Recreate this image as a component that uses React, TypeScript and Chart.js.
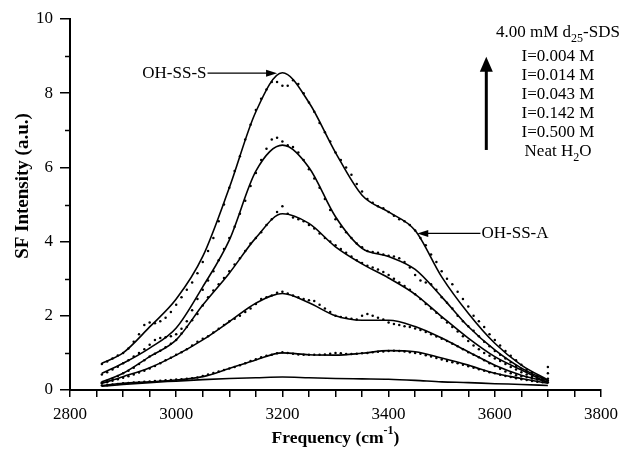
import React, { useEffect, useRef } from 'react';
import { Chart, registerables } from 'chart.js';
Chart.register(...registerables);

// ---- data ----
const fitX = [2860, 2900, 2950, 3000, 3050, 3100, 3150, 3200, 3250, 3300, 3350, 3400, 3450, 3500, 3550, 3600, 3650, 3700];
const fitA = [0.72, 1.0, 1.7, 2.45, 3.6, 5.45, 7.5, 8.55, 7.75, 6.4, 5.25, 4.8, 4.3, 3.05, 2.07, 1.26, 0.67, 0.27];
const fitB = [0.45, 0.72, 1.13, 1.67, 2.78, 4.04, 5.9, 6.6, 6.0, 4.67, 3.82, 3.6, 3.25, 2.51, 1.71, 1.08, 0.59, 0.25];
const fitC = [0.22, 0.45, 0.9, 1.35, 2.29, 3.15, 4.1, 4.75, 4.49, 3.86, 3.4, 3.02, 2.58, 1.98, 1.4, 0.9, 0.54, 0.2];
const fitD = [0.18, 0.36, 0.6, 0.94, 1.35, 1.84, 2.34, 2.6, 2.35, 2.0, 1.88, 1.88, 1.71, 1.4, 1.03, 0.67, 0.4, 0.22];
const fitE = [0.12, 0.18, 0.22, 0.27, 0.36, 0.58, 0.81, 1.0, 0.95, 0.94, 0.99, 1.06, 1.03, 0.86, 0.67, 0.45, 0.31, 0.18];
const fitF = [0.1, 0.15, 0.2, 0.24, 0.28, 0.31, 0.33, 0.35, 0.33, 0.31, 0.3, 0.29, 0.26, 0.22, 0.2, 0.17, 0.15, 0.12];

const dotX = [2860, 2880, 2900, 2920, 2940, 2960, 2980, 3000, 3020, 3040, 3060, 3080, 3100, 3120, 3140, 3160, 3180, 3200, 3220, 3240, 3260, 3280, 3300, 3320, 3340, 3360, 3380, 3400, 3420, 3440, 3460, 3480, 3500, 3520, 3540, 3560, 3580, 3600, 3620, 3640, 3660, 3680, 3700];
const dotA = [0.7, 0.85, 1.0, 1.3, 1.75, 1.8, 1.95, 2.3, 2.7, 3.15, 3.75, 4.55, 5.45, 6.3, 7.15, 7.85, 8.3, 8.2, 8.35, 8.0, 7.5, 6.95, 6.4, 6.0, 5.55, 5.15, 4.95, 4.8, 4.6, 4.45, 4.1, 3.65, 3.2, 2.85, 2.45, 2.0, 1.7, 1.35, 1.05, 0.8, 0.55, 0.38, 0.62];
const dotB = [0.42, 0.55, 0.72, 0.9, 1.1, 1.35, 1.42, 1.5, 1.85, 2.45, 2.95, 3.5, 4.1, 4.75, 5.5, 6.2, 6.75, 6.7, 6.55, 6.2, 5.7, 5.15, 4.6, 4.25, 3.95, 3.75, 3.7, 3.62, 3.55, 3.3, 2.95, 2.85, 2.5, 2.2, 1.85, 1.6, 1.3, 1.05, 0.85, 0.65, 0.5, 0.35, 0.45];
const dotC = [0.2, 0.3, 0.45, 0.6, 0.8, 0.98, 1.15, 1.35, 1.7, 2.05, 2.5, 2.85, 3.2, 3.55, 3.95, 4.25, 4.6, 4.95, 4.65, 4.55, 4.35, 4.1, 3.9, 3.7, 3.5, 3.35, 3.25, 3.1, 2.9, 2.7, 2.45, 2.2, 1.95, 1.7, 1.45, 1.2, 1.0, 0.85, 0.7, 0.55, 0.42, 0.3, 0.25];
const dotD = [0.18, 0.25, 0.33, 0.42, 0.52, 0.65, 0.8, 0.95, 1.1, 1.3, 1.45, 1.65, 1.85, 2.0, 2.2, 2.45, 2.55, 2.65, 2.55, 2.45, 2.4, 2.2, 2.0, 1.95, 1.9, 2.05, 1.95, 1.82, 1.75, 1.7, 1.62, 1.5, 1.38, 1.25, 1.1, 0.95, 0.8, 0.65, 0.5, 0.4, 0.35, 0.28, 0.3];
const dotE = [0.12, 0.15, 0.18, 0.2, 0.22, 0.24, 0.26, 0.28, 0.3, 0.34, 0.42, 0.5, 0.58, 0.67, 0.78, 0.88, 0.95, 1.02, 0.98, 0.95, 0.95, 0.96, 1.0, 0.97, 0.98, 1.0, 1.03, 1.05, 1.05, 1.02, 0.98, 0.9, 0.82, 0.75, 0.68, 0.6, 0.52, 0.45, 0.38, 0.32, 0.27, 0.22, 0.2];

const dotX2 = [2870, 2890, 2910, 2930, 2950, 2970, 2990, 3010, 3030, 3050, 3070, 3090, 3110, 3130, 3150, 3170, 3190, 3210, 3230, 3250, 3270, 3290, 3310, 3330, 3350, 3370, 3390, 3410, 3430, 3450, 3470, 3490, 3510, 3530, 3550, 3570, 3590, 3610, 3630, 3650, 3670, 3690];
const dotA2 = [0.77, 0.93, 1.12, 1.5, 1.82, 1.85, 2.1, 2.5, 2.9, 3.45, 4.1, 5.0, 5.9, 6.75, 7.55, 8.1, 8.3, 8.2, 8.25, 7.75, 7.2, 6.7, 6.2, 5.8, 5.35, 5.05, 4.9, 4.7, 4.55, 4.3, 3.9, 3.45, 3.0, 2.65, 2.25, 1.85, 1.5, 1.2, 0.92, 0.68, 0.48, 0.32];
const dotB2 = [0.48, 0.63, 0.8, 1.0, 1.22, 1.4, 1.45, 1.65, 2.15, 2.7, 3.2, 3.8, 4.4, 5.1, 5.85, 6.5, 6.8, 6.6, 6.4, 5.95, 5.45, 4.85, 4.4, 4.1, 3.85, 3.72, 3.65, 3.6, 3.45, 3.1, 2.9, 2.7, 2.35, 2.0, 1.72, 1.45, 1.18, 0.95, 0.75, 0.57, 0.42, 0.3];
const dotC2 = [0.25, 0.38, 0.52, 0.7, 0.9, 1.06, 1.25, 1.52, 1.88, 2.28, 2.68, 3.02, 3.38, 3.75, 4.1, 4.45, 4.8, 4.75, 4.6, 4.45, 4.22, 4.0, 3.8, 3.6, 3.42, 3.3, 3.18, 3.0, 2.8, 2.58, 2.32, 2.08, 1.82, 1.58, 1.32, 1.1, 0.92, 0.78, 0.62, 0.48, 0.36, 0.27];
const dotD2 = [0.21, 0.29, 0.37, 0.47, 0.58, 0.72, 0.87, 1.02, 1.2, 1.38, 1.55, 1.75, 1.92, 2.1, 2.32, 2.5, 2.62, 2.6, 2.5, 2.42, 2.3, 2.1, 1.97, 1.92, 2.0, 2.0, 1.9, 1.78, 1.72, 1.66, 1.56, 1.44, 1.32, 1.18, 1.02, 0.88, 0.72, 0.57, 0.45, 0.37, 0.31, 0.26];
const dotE2 = [0.13, 0.16, 0.19, 0.21, 0.23, 0.25, 0.27, 0.29, 0.32, 0.38, 0.46, 0.54, 0.62, 0.72, 0.83, 0.92, 0.99, 1.0, 0.96, 0.95, 0.95, 0.98, 0.99, 0.97, 0.99, 1.02, 1.04, 1.06, 1.04, 1.0, 0.94, 0.86, 0.78, 0.72, 0.64, 0.56, 0.48, 0.41, 0.35, 0.29, 0.24, 0.21];

const seriesLabels = ['I=0.004 M', 'I=0.014 M', 'I=0.043 M', 'I=0.142 M', 'I=0.500 M', 'Neat H2O'];
const fits = [fitA, fitB, fitC, fitD, fitE, fitF];
const dots = [dotA, dotB, dotC, dotD, dotE];
const dots2 = [dotA2, dotB2, dotC2, dotD2, dotE2];

const xTickLabels = ['2800', '3000', '3200', '3400', '3600', '3800'];
const yTickLabels = ['0', '2', '4', '6', '8', '10'];

// annotations (data coordinates)
const annS = { text: 'OH-SS-S', tailX: 3059, tipX: 3190, y: 8.54 };
const annA = { text: 'OH-SS-A', tailX: 3573, tipX: 3454, y: 4.22 };
const legendArrow = { x: 3584, yFrom: 6.47, yTo: 8.98 };

type Part = { t: string; sub?: boolean; sup?: boolean };
const legendLines: Part[][] = [
  [{ t: '4.00 mM d' }, { t: '25', sub: true }, { t: '-SDS' }],
  [{ t: 'I=0.004 M' }],
  [{ t: 'I=0.014 M' }],
  [{ t: 'I=0.043 M' }],
  [{ t: 'I=0.142 M' }],
  [{ t: 'I=0.500 M' }],
  [{ t: 'Neat H' }, { t: '2', sub: true }, { t: 'O' }],
];
const legendYs = [33, 57, 76, 95, 114, 133, 152];
const legendCX = 558;

const FONT = '"Liberation Serif", "Times New Roman", serif';

function drawRich(ctx: CanvasRenderingContext2D, parts: Part[], cx: number, cy: number, size: number, bold = false, align: 'center' | 'left' | 'right' = 'center') {
  const w = bold ? 'bold ' : '';
  const mainF = `${w}${size}px ${FONT}`;
  const smallF = `${w}${Math.round(size * 0.68)}px ${FONT}`;
  let total = 0;
  const widths = parts.map((p) => {
    ctx.font = p.sub || p.sup ? smallF : mainF;
    const m = ctx.measureText(p.t).width;
    total += m;
    return m;
  });
  let x = align === 'center' ? cx - total / 2 : align === 'right' ? cx - total : cx;
  ctx.textAlign = 'left';
  ctx.textBaseline = 'middle';
  parts.forEach((p, i) => {
    ctx.font = p.sub || p.sup ? smallF : mainF;
    const dy = p.sub ? size * 0.32 : p.sup ? -size * 0.38 : 0;
    ctx.fillText(p.t, x, cy + dy);
    x += widths[i];
  });
}

const overlay = {
  id: 'overlay',
  afterDraw(chart: any) {
    const ctx: CanvasRenderingContext2D = chart.ctx;
    const xs = chart.scales.x;
    const ys = chart.scales.y;
    const area = chart.chartArea;
    ctx.save();
    ctx.fillStyle = '#000';
    ctx.strokeStyle = '#000';

    // minor y ticks
    ctx.lineWidth = 1.5;
    for (let v = 1; v < 10; v += 2) {
      const py = Math.round(ys.getPixelForValue(v)) + 0.5;
      ctx.beginPath();
      ctx.moveTo(area.left - 5, py);
      ctx.lineTo(area.left, py);
      ctx.stroke();
    }

    // annotation arrows
    const drawArrowH = (a: { text: string; tailX: number; tipX: number; y: number }) => {
      const py = ys.getPixelForValue(a.y);
      const tail = xs.getPixelForValue(a.tailX);
      const tip = xs.getPixelForValue(a.tipX);
      const dir = tip > tail ? 1 : -1;
      ctx.lineWidth = 1.2;
      ctx.beginPath();
      ctx.moveTo(tail, py);
      ctx.lineTo(tip - dir * 8, py);
      ctx.stroke();
      ctx.beginPath();
      ctx.moveTo(tip, py);
      ctx.lineTo(tip - dir * 11, py - 3.5);
      ctx.lineTo(tip - dir * 11, py + 3.5);
      ctx.closePath();
      ctx.fill();
      drawRich(ctx, [{ t: a.text }], dir > 0 ? tail - 1 : tail + 1, py, 17, false, dir > 0 ? 'right' : 'left');
    };
    drawArrowH(annS);
    drawArrowH(annA);

    // legend arrow
    const lx = xs.getPixelForValue(legendArrow.x);
    const ly0 = ys.getPixelForValue(legendArrow.yFrom);
    const ly1 = ys.getPixelForValue(legendArrow.yTo);
    ctx.lineWidth = 3;
    ctx.beginPath();
    ctx.moveTo(lx, ly0);
    ctx.lineTo(lx, ly1 + 12);
    ctx.stroke();
    ctx.beginPath();
    ctx.moveTo(lx, ly1);
    ctx.lineTo(lx - 6.5, ly1 + 15);
    ctx.lineTo(lx + 6.5, ly1 + 15);
    ctx.closePath();
    ctx.fill();

    // legend text
    legendLines.forEach((parts, i) => drawRich(ctx, parts, legendCX, legendYs[i], 17));

    // axis titles
    drawRich(ctx, [{ t: 'Frequency (cm' }, { t: '-1', sup: true }, { t: ')' }], (area.left + area.right) / 2, 438, 17.5, true);
    ctx.save();
    ctx.translate(23, 186);
    ctx.rotate(-Math.PI / 2);
    drawRich(ctx, [{ t: 'SF Intensity (a.u.)' }], 0, 0, 19, true);
    ctx.restore();

    ctx.restore();
  },
};

export default function App() {
  const ref = useRef<HTMLCanvasElement | null>(null);
  useEffect(() => {
    if (!ref.current) return;
    const datasets: any[] = [];
    const dotStyle = {
      showLine: false,
      pointRadius: 1.25,
      pointBorderWidth: 0,
      pointBackgroundColor: '#000',
      borderColor: '#000',
    };
    dots.forEach((d, i) => {
      datasets.push({ label: seriesLabels[i] + ' data', data: dotX.map((x, j) => ({ x, y: d[j] })), ...dotStyle });
    });
    dots2.forEach((d, i) => {
      datasets.push({ label: seriesLabels[i] + ' data 2', data: dotX2.map((x, j) => ({ x, y: d[j] })), ...dotStyle });
    });
    fits.forEach((f, i) => {
      datasets.push({
        label: seriesLabels[i],
        data: fitX.map((x, j) => ({ x, y: f[j] })),
        borderColor: '#000',
        borderWidth: 1.6,
        pointRadius: 0,
        cubicInterpolationMode: 'monotone',
        fill: false,
      });
    });
    const chart = new Chart(ref.current, {
      type: 'line',
      data: { datasets },
      options: {
        animation: false,
        responsive: false,
        devicePixelRatio: 1,
        layout: { padding: { top: 19, right: 21, left: 0, bottom: 0 } },
        plugins: { legend: { display: false }, tooltip: { enabled: false } },
        scales: {
          x: {
            type: 'linear',
            min: 2800,
            max: 3800,
            afterFit: (s: any) => { s.height = 59; },
            border: { display: true, color: '#000', width: 2 },
            grid: { display: true, drawOnChartArea: false, drawTicks: true, tickLength: 7, color: '#000', lineWidth: 1.5 },
            ticks: {
              stepSize: 50,
              autoSkip: false,
              maxRotation: 0,
              padding: 7,
              color: '#000',
              font: { family: FONT, size: 17 },
              callback: (v: any) => (xTickLabels.includes(String(v)) ? String(v) : ''),
            },
          },
          y: {
            min: 0,
            max: 10,
            afterFit: (s: any) => { s.width = 70; },
            border: { display: true, color: '#000', width: 2 },
            grid: {
              display: true,
              drawOnChartArea: false,
              drawTicks: true,
              tickLength: 10,
              lineWidth: 1.5,
              color: (c: any) => (c.tick && yTickLabels.includes(String(c.tick.value)) ? '#000' : 'rgba(0,0,0,0)'),
            },
            ticks: {
              stepSize: 1,
              autoSkip: false,
              padding: 7,
              color: '#000',
              font: { family: FONT, size: 17 },
              callback: (v: any) => (yTickLabels.includes(String(v)) ? String(v) : ''),
            },
          },
        },
      },
      plugins: [overlay],
    });
    return () => chart.destroy();
  }, []);
  return (
    <div style={{ position: 'absolute', left: 0, top: 0, width: 625, height: 449, background: '#fff' }}>
      <canvas ref={ref} width={625} height={449} />
    </div>
  );
}
